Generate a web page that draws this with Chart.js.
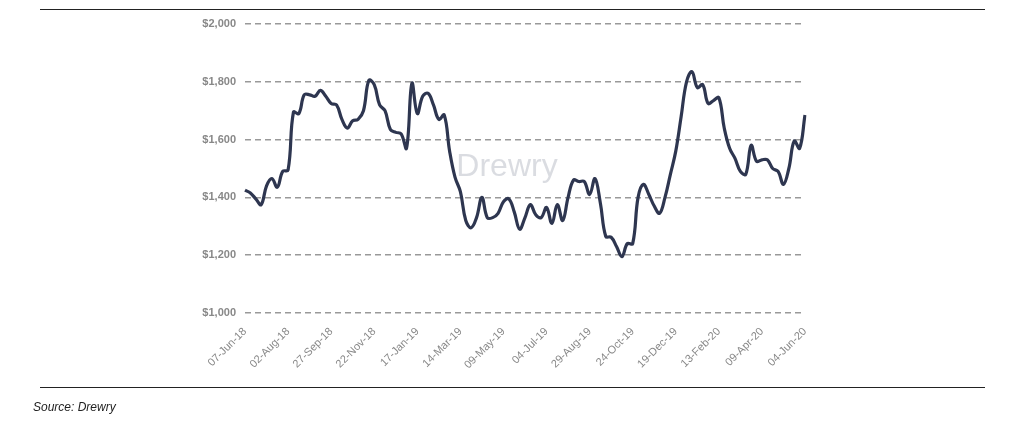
<!DOCTYPE html>
<html>
<head>
<meta charset="utf-8">
<script src="https://cdn.jsdelivr.net/npm/chart.js@4"></script>
<style>
  body{margin:0;background:#fff;font-family:"Liberation Sans",Arial,sans-serif;}
  #wrap{position:relative;width:1024px;height:427px;}
  #c{position:absolute;left:0;top:0;}
  .rule{position:absolute;left:40px;width:945px;height:0;border-top:1.5px solid #222;}
  #src{position:absolute;left:33px;top:400px;font-size:12px;font-style:italic;color:#222;}
</style>
</head>
<body>
<div id="wrap">
  <canvas id="c" width="1024" height="427"></canvas>
  <div class="rule" style="top:9px"></div>
  <div class="rule" style="top:387px"></div>
  <div id="src">Source: Drewry</div>
</div>
<script>
// weekly rates, 07-Jun-18 .. 04-Jun-20
const tickLabels = ['07-Jun-18','02-Aug-18','27-Sep-18','22-Nov-18','17-Jan-19','14-Mar-19','09-May-19','04-Jul-19','29-Aug-19','24-Oct-19','19-Dec-19','13-Feb-20','09-Apr-20','04-Jun-20'];
const rates = [1425,1415,1395,1375,1440,1465,1435,1490,1495,1695,1690,1755,1755,1750,1770,1750,1725,1720,1670,1640,
  1665,1670,1700,1805,1790,1720,1700,1635,1625,1620,1570,1795,1690,1750,1760,1720,1670,1685,1560,1470,
  1420,1320,1295,1330,1400,1330,1330,1345,1385,1395,1350,1290,1330,1375,1340,1330,1365,1310,1375,1320,
  1400,1460,1455,1455,1410,1465,1380,1265,1262,1230,1195,1240,1240,1400,1445,1410,1370,1345,1400,1480,
  1560,1680,1800,1835,1780,1790,1725,1735,1745,1640,1570,1535,1490,1480,1580,1525,1530,1530,1500,1490,
  1445,1500,1595,1570,1685];
const labels = rates.map((v,i)=> i%8===0 ? tickLabels[i/8] : '');

const watermark = {
  id:'watermark',
  beforeDatasetsDraw(chart){
    const ctx=chart.ctx;
    ctx.save();
    ctx.font='32px "Liberation Sans", Arial, sans-serif';
    ctx.fillStyle='rgba(150,155,170,0.35)';
    ctx.textAlign='center';ctx.textBaseline='middle';
    ctx.fillText('Drewry',507,167);
    ctx.restore();
  }
};

new Chart(document.getElementById('c'),{
  type:'line',
  data:{labels,datasets:[{data:rates,borderColor:'#2e3650',borderWidth:3.2,pointRadius:0,tension:0.4,fill:false}]},
  options:{
    responsive:false,animation:false,
    layout:{padding:{top:24,right:219,bottom:0,left:0}},
    plugins:{legend:{display:false},tooltip:{enabled:false}},
    scales:{
      x:{
        grid:{display:false},border:{display:false},
        afterFit(s){s.height=114;},
        ticks:{autoSkip:false,minRotation:45,maxRotation:45,color:'#888',font:{size:11},padding:4,
          callback:(v,i)=>labels[i]}
      },
      y:{
        min:1000,max:2000,
        afterFit(s){s.width=245;},
        border:{display:false,dash:[6,4]},
        grid:{color:'#999',lineWidth:1.5,drawTicks:false},
        ticks:{stepSize:200,color:'#888',font:{size:11,weight:'bold'},padding:9,
          callback:v=>'$'+v.toLocaleString('en-US')}
      }
    }
  },
  plugins:[watermark]
});
</script>
</body>
</html>
